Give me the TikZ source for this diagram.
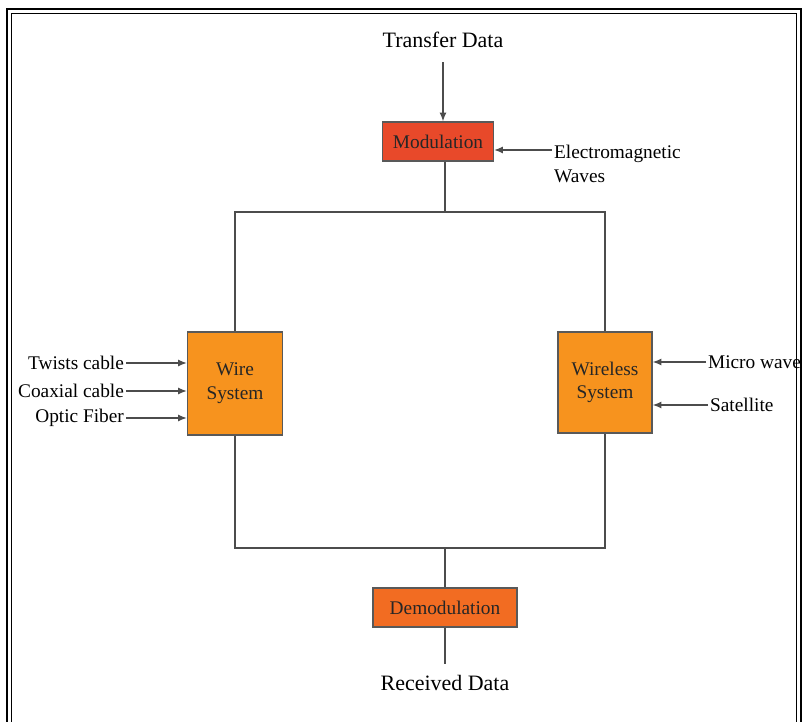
\documentclass[tikz,border=0pt]{standalone}
\usepackage{fontspec}
\setmainfont{Liberation Serif}
\usetikzlibrary{arrows.meta,shapes,positioning}
\usepackage{xcolor}
\definecolor{modred}{HTML}{E8492A}
\definecolor{sysorange}{HTML}{F7931E}
\definecolor{demorange}{HTML}{F26C22}

\begin{document}
\begin{tikzpicture}[x=0.02cm, y=-0.02cm,
		every node/.style = {font=\fontsize{11}{13.5}\selectfont, inner sep=1pt},
		box/.style = {draw=black!65, line width=0.8pt, inner sep=0pt, align=center, text=black!85},
		link/.style = {draw=black!70, line width=0.7pt},
		arr/.style = {link, -{Latex[length=5pt,width=4pt]}},
		big/.style = {font=\fontsize{12.5}{15}\selectfont, inner sep=3pt}
		]
		\useasboundingbox (0,0) rectangle (805,722);
		\draw[line width=1.6pt] (7,730) -- (7,9) -- (801,9) -- (801,730);
		\draw[line width=0.5pt] (11.5,730) -- (11.5,13.5) -- (796.5,13.5) -- (796.5,730);

		\coordinate (top) at (445,212);
		\coordinate (bot) at (445,548);
		\draw[link] (235,212) rectangle (605,548);

		\node[big] (td) at (443,40) {Transfer Data};
		\node[box, fill=modred, minimum width=2.22cm, minimum height=0.78cm] (mod) at (438,141.5) {Modulation};
		\node[anchor=north west, align=left] (em) at (552,143) {Electromagnetic\\Waves};
		\node[box, fill=sysorange, minimum width=1.9cm, minimum height=2.06cm] (wire) at (235,383.5) {Wire\\System};
		\node[box, fill=sysorange, minimum width=1.88cm, minimum height=2.02cm] (wless) at (605,382.5) {Wireless\\System};
		\node[anchor=east] (tw) at (126,363) {Twists cable};
		\node[anchor=east] (cx) at (126,391) {Coaxial cable};
		\node[anchor=east] (of) at (126,418) {Optic Fiber};
		\node[anchor=west] (mw) at (706,362) {Micro wave};
		\node[anchor=west] (sat) at (708,405) {Satellite};
		\node[box, fill=demorange, minimum width=2.88cm, minimum height=0.78cm] (dem) at (445,607.5) {Demodulation};
		\node[big] (rd) at (445,683) {Received Data};

		\draw[arr, shorten <=5pt] (td.south) -- (td.south |- mod.north);
		\draw[link] (mod.south -| top) -- (top);
		\draw[arr] (em.north west |- 0,150) -- (mod.east |- 0,150);
		\draw[arr] (tw.east) -- (tw.east -| wire.west);
		\draw[arr] (cx.east) -- (cx.east -| wire.west);
		\draw[arr] (of.east) -- (of.east -| wire.west);
		\draw[arr] (mw.west) -- (mw.west -| wless.east);
		\draw[arr] (sat.west) -- (sat.west -| wless.east);
		\draw[link] (bot) -- (dem.north);
		\draw[link, shorten >=3pt] (dem.south) -- (rd.north);
	\end{tikzpicture}
\end{document}
